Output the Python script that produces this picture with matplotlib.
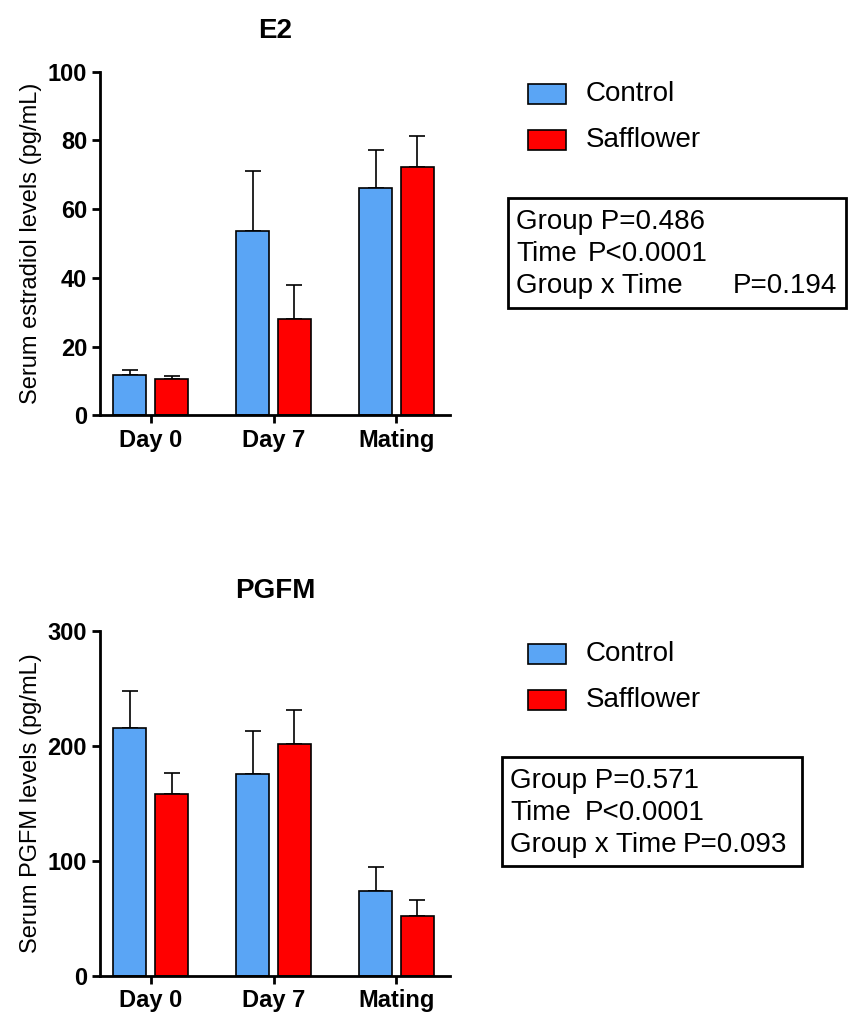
import matplotlib
matplotlib.use("Agg")
import matplotlib.pyplot as plt
import numpy as np
from matplotlib.patches import Rectangle

plt.rcParams['font.family'] = ['Liberation Sans', 'DejaVu Sans']

categories = ["Day 0", "Day 7", "Mating"]
e2_control = [11.7, 53.5, 66.0]
e2_control_err = [1.6, 17.7, 11.2]
e2_saff = [10.5, 28.0, 72.3]
e2_saff_err = [1.0, 10.0, 9.0]
pg_control = [216, 176, 74]
pg_control_err = [32, 37, 21]
pg_saff = [158, 202, 52]
pg_saff_err = [19, 29, 14]
blue = "#5AA5F5"
red = "#FF0000"

fig = plt.figure(figsize=(8.5, 10.23), dpi=100)

def panel(rect, title, c, ce, s, se, ylim, yticks, ylabel):
    ax = fig.add_axes(rect)
    x = np.arange(len(categories))
    w, off = 0.27, 0.17
    ax.bar(x - off, c, w, color=blue, edgecolor="black", linewidth=1.2, zorder=2)
    ax.bar(x + off, s, w, color=red, edgecolor="black", linewidth=1.2, zorder=2)
    ax.errorbar(x - off, c, yerr=[np.zeros(3), ce], fmt="none", ecolor="black", elinewidth=1.2, capsize=6, capthick=1.2, zorder=1)
    ax.errorbar(x + off, s, yerr=[np.zeros(3), se], fmt="none", ecolor="black", elinewidth=1.2, capsize=6, capthick=1.2, zorder=1)
    ax.set_xlim(-0.41, 2.44)
    ax.set_ylim(*ylim)
    ax.set_yticks(yticks)
    ax.set_xticks(x)
    ax.set_xticklabels(categories, fontsize=17, fontweight="bold")
    for t in ax.get_yticklabels():
        t.set_fontsize(17); t.set_fontweight("bold")
    ax.set_ylabel(ylabel, fontsize=17, labelpad=4)
    ax.set_title(title, fontsize=20, fontweight="bold", pad=24)
    for sp in ["top", "right"]:
        ax.spines[sp].set_visible(False)
    for sp in ["left", "bottom"]:
        ax.spines[sp].set_linewidth(2)
    ax.tick_params(width=2, length=6)
    return ax

panel([0.118, 0.594, 0.412, 0.336], "E2", e2_control, e2_control_err, e2_saff, e2_saff_err,
      (0, 100), [0, 20, 40, 60, 80, 100], "Serum estradiol levels (pg/mL)")
panel([0.118, 0.046, 0.412, 0.337], "PGFM", pg_control, pg_control_err, pg_saff, pg_saff_err,
      (0, 300), [0, 100, 200, 300], "Serum PGFM levels (pg/mL)")

def legend(y_top):
    for i, (lab, col) in enumerate([("Control", blue), ("Safflower", red)]):
        yc = y_top + i * 46
        fig.patches.append(Rectangle((528/850, 1 - (yc + 10)/1023), 38/850, 20/1023,
                                     transform=fig.transFigure, facecolor=col, edgecolor="black", lw=1.2))
        fig.text(586/850, 1 - yc/1023, lab, fontsize=20, va="center")

legend(94)
legend(654)

def box(x0, y0, x1, y1, lines):
    fig.patches.append(Rectangle((x0/850, 1 - y1/1023), (x1-x0)/850, (y1-y0)/1023,
                                 transform=fig.transFigure, facecolor="none", edgecolor="black", lw=2))
    for i, (a, b, bx) in enumerate(lines):
        y = y0 + 24 + i * 32
        fig.text((x0 + 8)/850, 1 - y/1023, a, fontsize=20, va="center")
        if b:
            fig.text(bx/850, 1 - y/1023, b, fontsize=20, va="center")

box(508, 198, 846, 308, [("Group P=0.486", "", 0), ("Time", "P<0.0001", 588),
                         ("Group x Time", "P=0.194", 733)])
box(502, 757, 802, 866, [("Group P=0.571", "", 0), ("Time", "P<0.0001", 585),
                         ("Group x Time", "P=0.093", 683)])

fig.savefig("out.png", dpi=100)
